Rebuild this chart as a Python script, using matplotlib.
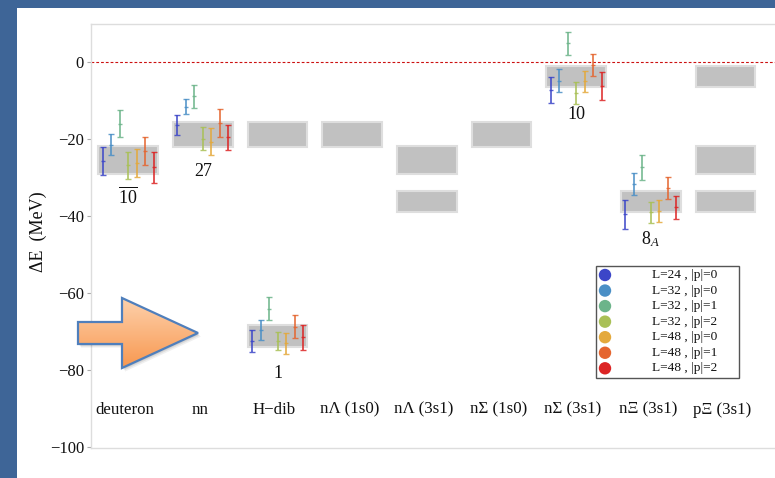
import numpy as np
import matplotlib
matplotlib.use("Agg")
import matplotlib.pyplot as plt
from matplotlib.patches import Rectangle, Polygon, Circle

plt.rcParams["font.family"] = ["Liberation Serif", "DejaVu Serif"]
plt.rcParams["mathtext.fontset"] = "custom"
plt.rcParams["mathtext.rm"] = "Liberation Serif"
plt.rcParams["mathtext.it"] = "Liberation Serif:italic"

# ---- data -------------------------------------------------------------
categories = ["deuteron", "nn", "H\u2212dib", "n\u039b (1s0)", "n\u039b (3s1)",
              "n\u03a3 (1s0)", "n\u03a3 (3s1)", "n\u039e (3s1)", "p\u039e (3s1)"]

ensembles = ["L=24 , |p|=0", "L=32 , |p|=0", "L=32 , |p|=1", "L=32 , |p|=2",
             "L=48 , |p|=0", "L=48 , |p|=1", "L=48 , |p|=2"]
ens_colors = ["#3c46c8", "#4a8fc6", "#6cb48a", "#a9c056",
              "#e4a93c", "#e5652f", "#dc2424"]

# binding energies (MeV) per ensemble, with errors
deuteron_E = [-25.55, -21.35, -15.9, -26.75, -26.1, -23.05, -27.25]
deuteron_err = [3.65, 2.65, 3.55, 3.55, 3.6, 3.55, 4.05]
nn_E = [-16.2, -11.5, -8.85, -19.85, -20.65, -15.75, -19.5]
nn_err = [2.6, 2.0, 3.05, 2.95, 3.55, 3.55, 3.3]
hdib_E = [-72.4, -69.7, -64.1, -72.45, -73.05, -68.7, -71.55]
hdib_err = [2.9, 2.6, 3.0, 2.35, 2.75, 2.9, 3.15]
nsigma3s1_E = [-7.2, -4.7, 4.95, -7.95, -4.95, -0.6, -6.05]
nsigma3s1_err = [3.4, 3.0, 3.05, 2.95, 2.85, 2.9, 3.65]
nxi3s1_E = [-39.55, -31.7, -27.25, -39.0, -38.65, -32.6, -37.65]
nxi3s1_err = [3.65, 2.9, 3.25, 2.8, 2.95, 2.9, 2.95]

# which category each result set belongs to
results = [(0, deuteron_E, deuteron_err),
           (1, nn_E, nn_err),
           (2, hdib_E, hdib_err),
           (6, nsigma3s1_E, nsigma3s1_err),
           (7, nxi3s1_E, nxi3s1_err)]

# SU(3)-irrep energy bands: (category index, lower, upper)
bands = [(0, -29.0, -21.7),
         (1, -21.9, -15.5),
         (2, -21.9, -15.5), (2, -74.1, -68.4),
         (3, -21.9, -15.5),
         (4, -29.0, -21.7), (4, -39.0, -33.4),
         (5, -21.9, -15.5),
         (6, -6.5, -0.8),
         (7, -39.0, -33.4),
         (8, -6.5, -0.8), (8, -29.0, -21.7), (8, -39.0, -33.4)]

# irrep labels: (category index, energy, text)
irrep_labels = [(0, -35.0, r"$\overline{10}$"),
                (1, -28.4, "27"),
                (2, -80.9, "1"),
                (6, -13.5, "10"),
                (7, -46.0, r"$8_{A}$")]

# ---- figure -----------------------------------------------------------
W, H = 775, 478
fig = plt.figure(figsize=(W / 100, H / 100), dpi=100)
fig.patch.set_facecolor("white")

ax_l, ax_r, ax_t, ax_b = 91, 800, 24, 448
ax = fig.add_axes([ax_l / W, (H - ax_b) / H, (ax_r - ax_l) / W, (ax_b - ax_t) / H])
ax.set_xlim(0.5, 10.0)
ax.set_ylim(-100.3, 10.0)

# bands
half_w = 0.4
for ci, lo, hi in bands:
    ax.add_patch(Rectangle((ci + 1 - half_w, lo), 2 * half_w, hi - lo,
                           facecolor="#c1c1c1", edgecolor="#dedede",
                           linewidth=1.5, zorder=1))

# lattice points
step = 0.114
for ci, vals, errs in results:
    for k, (v, e) in enumerate(zip(vals, errs)):
        x = ci + 1 + (k - 3) * step
        ax.errorbar(x, v, yerr=e, fmt="_", color=ens_colors[k], ecolor=ens_colors[k],
                    markersize=3.5, mew=1.0, elinewidth=1.3, capsize=2.2, capthick=1.0,
                    alpha=0.85, zorder=3)

# zero line
ax.axhline(0, color="#cc1010", linestyle=(0, (2.5, 1.8)), linewidth=0.8, zorder=2)

# irrep labels
for ci, y, txt in irrep_labels:
    ax.text(ci + 1, y, txt, ha="center", va="center", fontsize=13, color="#111111")

# channel names
for i, name in enumerate(categories):
    ax.text(i + 1 - 0.04, -90.3, name, ha="center", va="center", fontsize=12.2,
            color="#111111")

ax.set_xticks([])
ax.set_yticks([0, -20, -40, -60, -80, -100])
ax.tick_params(axis="y", length=3, width=0.8, color="#aaaaaa", labelsize=12,
               pad=2, labelcolor="#111111")
for side in ["left", "top", "bottom"]:
    ax.spines[side].set_color("#dddddd")
    ax.spines[side].set_linewidth(1.0)
ax.spines["right"].set_visible(False)

ax.set_ylabel("\u0394E  (MeV)", fontsize=13, color="#111111")
ax.yaxis.set_label_coords((47 - ax_l) / (ax_r - ax_l), (ax_b - 232) / (ax_b - ax_t))

# ---- overlay in pixel coordinates -------------------------------------
ov = fig.add_axes([0, 0, 1, 1], zorder=5)
ov.set_xlim(0, W)
ov.set_ylim(H, 0)
ov.axis("off")
ov.patch.set_alpha(0)

# slide frame
frame_blue = "#3e6597"
ov.add_patch(Rectangle((0, 0), 17, H, facecolor=frame_blue, edgecolor="none"))
ov.add_patch(Rectangle((0, 0), W, 8, facecolor=frame_blue, edgecolor="none"))

# arrow pointing at the H-dibaryon
arrow_pts = [(78, 322), (122, 322), (122, 298), (198, 333),
             (122, 368), (122, 344), (78, 344)]
for off, a in [(3.0, 0.06), (2.0, 0.08), (1.2, 0.08)]:
    ov.add_patch(Polygon([(x + off, y + off * 1.2) for x, y in arrow_pts], closed=True,
                         facecolor="#000000", alpha=a, edgecolor="none"))
arrow = Polygon(arrow_pts, closed=True, facecolor="none", edgecolor="#4f7fbc",
                linewidth=1.6, zorder=3)
ov.add_patch(arrow)
top_c = np.array([253, 209, 172]) / 255
bot_c = np.array([248, 152, 80]) / 255
t = np.linspace(0, 1, 120)[:, None, None]
grad = top_c * (1 - t) + bot_c * t
grad = np.repeat(grad, 4, axis=1)
im = ov.imshow(grad, extent=(78, 198, 368, 298), aspect="auto", zorder=2,
               interpolation="bilinear")
clip = Polygon(arrow_pts, closed=True, transform=ov.transData)
im.set_clip_path(clip)
ov.set_xlim(0, W)
ov.set_ylim(H, 0)

# legend box
ov.add_patch(Rectangle((596, 266), 143, 112, facecolor="white",
                       edgecolor="#555555", linewidth=1.0, zorder=3))
for k, (lab, col) in enumerate(zip(ensembles, ens_colors)):
    yy = 275 + k * 15.55
    ov.add_patch(Circle((605, yy), 6.2, facecolor=col, edgecolor="none", zorder=4))
    ov.text(652, yy, lab, ha="left", va="center", fontsize=9.6, color="#111111",
            zorder=4)

fig.savefig("out.png", dpi=100)
